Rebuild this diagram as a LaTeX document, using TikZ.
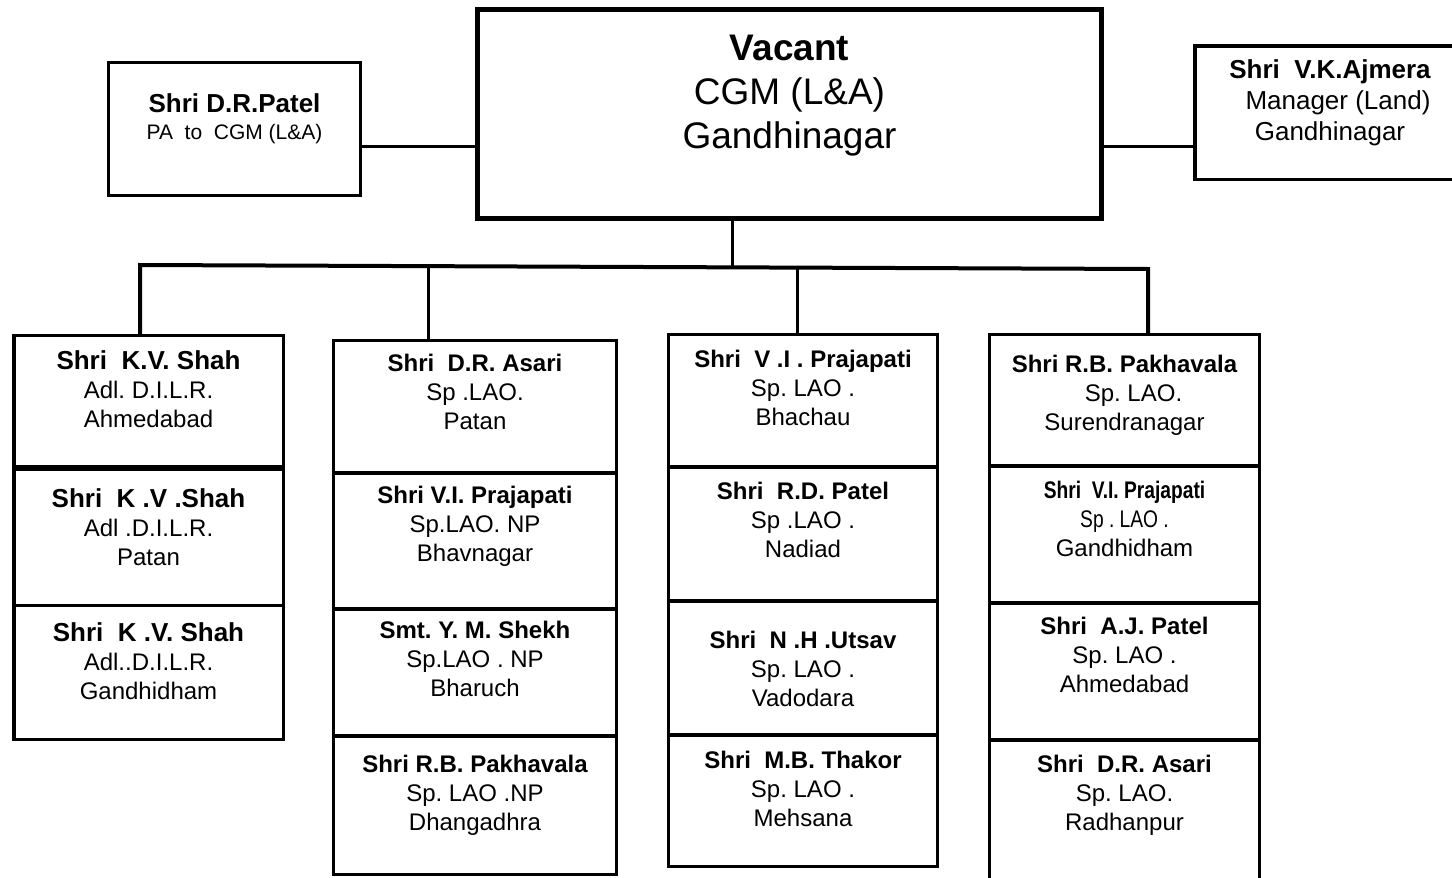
\documentclass[tikz,border=0pt]{standalone}
\usepackage{fontspec}
\setmainfont{Liberation Sans}
\usepackage{graphicx}
\newcommand\mkcell[5]{\node[box, minimum width={(#4-#2)*1pt}, minimum height={(#5-#3)*1pt}] (#1) at ({(#2+#4)/2},{(#3+#5)/2}) {};}
\begin{document}
\frenchspacing
\begin{tikzpicture}[x=1pt,y=-1pt,
  box/.style={draw, line width=3.5pt, inner sep=0pt, outer sep=0pt},
  txt/.style={inner sep=0pt, anchor=north, align=center, font=\fontsize{24}{29}\selectfont},
  link/.style={line width=3pt},
  bus/.style={line width=4pt, line join=miter}]
\useasboundingbox (0,0) rectangle (1452,878);

% top level
\node[box, line width=5pt, minimum width=624pt, minimum height=209pt] (cgm) at (789.5,114) {};
\node[txt, font=\fontsize{37}{44}\selectfont] (cgmt) at (789.5,35) {{\bfseries Vacant}\\CGM (L\&A)\\Gandhinagar};

\node[box, minimum width=252pt, minimum height=133pt] (pa) at (234.5,129) {};
\node[txt, font=\fontsize{21}{27}\selectfont] (pat) at (234.5,93) {{\fontsize{26}{27}\selectfont\bfseries Shri D.R.Patel}\\PA\ \ to\ \ CGM (L\&A)};

\node[box, minimum width=276pt, minimum height=133.5pt] (ajm) at (1333,112.5) {};
\node[txt, font=\fontsize{26}{31}\selectfont] (ajmt) at (1330,59) {{\bfseries Shri\ \ V.K.Ajmera}\\\hspace*{16pt}Manager (Land)\\Gandhinagar};

\draw[link] (pa.east |- 0,146) -- (cgm.west |- 0,146);
\draw[link] (cgm.east |- 0,146) -- (ajm.west |- 0,146);

% column 1
\mkcell{c1a}{14}{335.5}{283.5}{468}
\mkcell{c1b}{14}{468}{283.5}{605.5}
\mkcell{c1c}{14}{605.5}{283.5}{739.5}
\draw[line width=6pt] (c1a.south west) -- (c1a.south east);
\node[txt] (t1a) at (148.5,350) {{\fontsize{26}{29}\selectfont\bfseries Shri\ \ K.V. Shah}\\Adl. D.I.L.R.\\Ahmedabad};
\node[txt] (t1b) at (148.5,488) {{\fontsize{26}{29}\selectfont\bfseries Shri\ \ K .V .Shah}\\Adl .D.I.L.R.\\Patan};
\node[txt] (t1c) at (148.5,622) {{\fontsize{26}{29}\selectfont\bfseries Shri\ \ K .V. Shah}\\Adl..D.I.L.R.\\Gandhidham};

% column 2
\mkcell{c2a}{333.5}{340.5}{616.5}{473}
\mkcell{c2b}{333.5}{473}{616.5}{609}
\mkcell{c2c}{333.5}{609}{616.5}{736}
\mkcell{c2d}{333.5}{736}{616.5}{874.5}
\node[txt] (t2a) at (475,354) {{\bfseries Shri\ \ D.R. Asari}\\Sp .LAO.\\Patan};
\node[txt] (t2b) at (475,486) {{\bfseries Shri V.I. Prajapati}\\Sp.LAO. NP\\Bhavnagar};
\node[txt] (t2c) at (475,621) {{\bfseries Smt. Y. M. Shekh}\\Sp.LAO . NP\\Bharuch};
\node[txt] (t2d) at (475,755) {{\bfseries Shri R.B. Pakhavala}\\Sp. LAO .NP\\Dhangadhra};

% column 3
\mkcell{c3a}{668.5}{334.5}{937.5}{467}
\mkcell{c3b}{668.5}{467}{937.5}{601}
\mkcell{c3c}{668.5}{601}{937.5}{735}
\mkcell{c3d}{668.5}{735}{937.5}{866.5}
\node[txt] (t3a) at (803,350) {{\bfseries Shri\ \ V .I . Prajapati}\\Sp. LAO .\\Bhachau};
\node[txt] (t3b) at (803,482) {{\bfseries Shri\ \ R.D. Patel}\\Sp .LAO .\\Nadiad};
\node[txt] (t3c) at (803,631) {{\bfseries Shri\ \ N .H .Utsav}\\Sp. LAO .\\Vadodara};
\node[txt] (t3d) at (803,751) {{\bfseries Shri\ \ M.B. Thakor}\\Sp. LAO .\\Mehsana};

% column 4
\mkcell{c4a}{989.5}{334.5}{1259.5}{466}
\mkcell{c4b}{989.5}{466}{1259.5}{603}
\mkcell{c4c}{989.5}{603}{1259.5}{740}
\mkcell{c4d}{989.5}{740}{1259.5}{900}
\node[txt] (t4a) at (1124.5,355) {{\bfseries Shri R.B. Pakhavala}\\\hspace*{18pt}Sp. LAO.\\Surendranagar};
\node[txt] (t4b) at (1124.5,481) {\scalebox{0.8}[1]{\bfseries Shri\ \ V.I. Prajapati}\\\scalebox{0.8}[1]{Sp . LAO .}\\Gandhidham};
\node[txt] (t4c) at (1124.5,617) {{\bfseries Shri\ \ A.J. Patel}\\Sp. LAO .\\Ahmedabad};
\node[txt] (t4d) at (1124.5,755) {{\bfseries Shri\ \ D.R. Asari}\\Sp. LAO.\\Radhanpur};

% bus and stems
\coordinate (bL) at (140,265);
\coordinate (bR) at (1148,269);
\coordinate (s2) at (428,266.2);
\coordinate (s0) at (732,267.3);
\coordinate (s3) at (797,267.6);
\draw[bus] (c1a.north -| bL) -- (bL) -- (bR) -- (c4a.north -| bR);
\draw[link] (cgm.south -| s0) -- (s0);
\draw[link] (s2) -- (c2a.north -| s2);
\draw[link] (s3) -- (c3a.north -| s3);
\end{tikzpicture}
\end{document}
